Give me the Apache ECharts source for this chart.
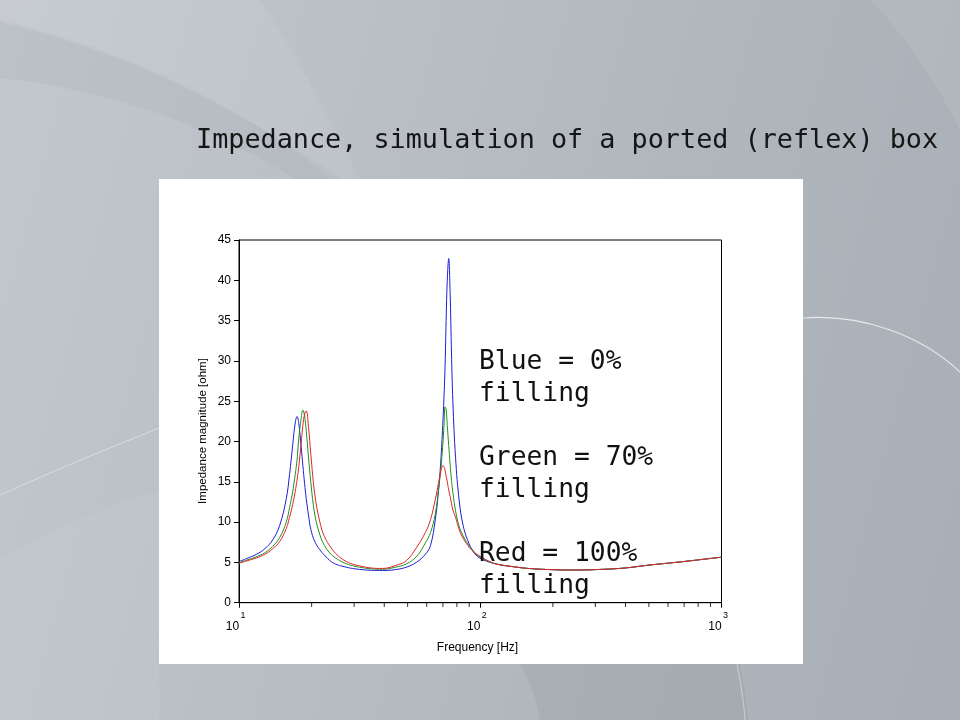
<!DOCTYPE html>
<html>
<head>
<meta charset="utf-8">
<script src="https://cdn.jsdelivr.net/npm/echarts@6/dist/echarts.min.js"></script>
<style>
html,body{margin:0;padding:0;width:960px;height:720px;overflow:hidden;}
body{position:relative;background:linear-gradient(105deg,#c3c8cd 0%,#b9bfc5 35%,#afb6bc 65%,#a7aeb5 100%);}
#bg{position:absolute;left:0;top:0;}
#panel{position:absolute;left:159px;top:179px;width:644px;height:485px;background:#ffffff;}
#chart{position:absolute;left:0;top:0;width:960px;height:720px;}
</style>
</head>
<body>
<svg id="bg" width="960" height="720">
  <path d="M0,0 L260,0 C300,60 330,120 360,180 L330,180 C250,110 130,50 0,20 Z" fill="#ffffff" opacity="0.07"/>
  <path d="M0,22 C130,52 250,115 345,182 L300,182 C210,125 110,90 0,78 Z" fill="#8a929a" opacity="0.10"/>
  <path d="M870,0 L960,0 L960,130 C935,80 905,35 870,0 Z" fill="#ffffff" opacity="0.08"/>
  <path d="M0,560 C50,530 110,505 159,490 L159,720 L0,720 Z" fill="#ffffff" opacity="0.05"/>
  <path d="M520,664 L740,664 C745,690 747,705 748,720 L540,720 C536,700 530,680 520,664 Z" fill="#000000" opacity="0.04"/>
  <path d="M803,318 C860,314 920,334 960,372" stroke="#f1f3f5" stroke-width="1.2" fill="none" opacity="0.85"/>
  <path d="M0,495 C60,468 110,448 159,428" stroke="#e9ecef" stroke-width="1" fill="none" opacity="0.6"/>
  <path d="M737,664 C742,690 744,705 745,720" stroke="#e2e6ea" stroke-width="1" fill="none" opacity="0.6"/>
</svg>
<div id="panel"></div>
<div id="chart"></div>
<script>
// Frequencies [Hz]
const freq = [10, 10.8, 11.8, 12.8, 13.8, 14.75, 15.7, 16.2, 16.7, 17.1, 17.4, 17.7, 18.1, 18.4, 18.7, 19.0, 19.4, 19.85, 20.6, 21.6, 22.6, 24.1, 25.6, 27.5, 29.5, 32.4, 35.4, 39.4, 44.4, 49.3, 54.3, 59.2, 62.2, 65.1, 67.1, 68.6, 69.9, 70.7, 71.5, 72.2, 73.0, 74.0, 75.0, 76.0, 77.0, 79.0, 81.9, 84.9, 88.8, 93.8, 98.8, 108.7, 118.6, 138.4, 158.3, 198, 247.5, 297, 396, 495, 693, 1000];
// Impedance magnitude [ohm], 0% filling (blue)
const blue = [5.1, 5.5, 6.0, 6.7, 7.8, 9.6, 12.9, 15.9, 19.6, 22.3, 23.1, 22.2, 19.3, 17.0, 14.8, 12.9, 10.9, 9.1, 7.6, 6.6, 5.9, 5.1, 4.7, 4.45, 4.25, 4.1, 4.02, 4.0, 4.1, 4.4, 5.0, 6.0, 7.1, 10.3, 13.8, 17.5, 22.0, 25.3, 29.5, 35.0, 40.0, 42.7, 38.5, 31.0, 25.0, 18.0, 12.5, 9.6, 7.7, 6.3, 5.6, 5.05, 4.75, 4.45, 4.25, 4.1, 4.05, 4.1, 4.3, 4.65, 5.1, 5.65];
// 70% filling (green)
const green = [4.95, 5.3, 5.7, 6.2, 7.0, 8.1, 10.0, 11.8, 13.8, 15.9, 17.7, 20.4, 22.9, 23.9, 23.2, 21.3, 18.2, 14.9, 11.0, 8.5, 7.1, 6.0, 5.4, 4.9, 4.6, 4.35, 4.2, 4.15, 4.4, 4.8, 5.7, 7.4, 8.7, 11.0, 14.0, 16.5, 19.5, 21.8, 24.3, 24.0, 22.0, 19.5, 17.2, 15.2, 13.7, 11.4, 9.4, 8.3, 7.3, 6.4, 5.75, 5.1, 4.75, 4.45, 4.25, 4.1, 4.05, 4.1, 4.3, 4.65, 5.1, 5.65];
// 100% filling (red)
const red = [4.9, 5.2, 5.55, 6.0, 6.7, 7.6, 9.2, 10.6, 12.2, 13.8, 15.2, 16.9, 19.8, 22.0, 23.4, 23.8, 21.9, 18.4, 13.5, 10.1, 8.2, 6.8, 5.9, 5.2, 4.8, 4.5, 4.3, 4.25, 4.6, 5.2, 6.8, 8.7, 10.3, 12.8, 14.8, 16.3, 17.0, 16.9, 16.4, 15.7, 15.0, 14.0, 13.2, 12.3, 11.5, 10.6, 9.0, 8.0, 7.1, 6.3, 5.85, 5.15, 4.75, 4.45, 4.25, 4.1, 4.05, 4.1, 4.3, 4.65, 5.1, 5.65];
// Minor tick positions on the log axis
const minorTicks = [20, 30, 40, 50, 60, 70, 80, 90, 200, 300, 400, 500, 600, 700, 800, 900];

const titleText = 'Impedance, simulation of a ported (reflex) box';
const noteText = 'Blue = 0%\nfilling\n\nGreen = 70%\nfilling\n\nRed = 100%\nfilling';
const xName = 'Frequency [Hz]';
const yName = 'Impedance magnitude [ohm]';

const chart = echarts.init(document.getElementById('chart'), null, {width: 960, height: 720});
const pair = arr => freq.map((f, i) => [f, arr[i]]);
const lineSeries = (arr, color) => ({
  type: 'line', data: pair(arr), showSymbol: false, symbol: 'none',
  smooth: 0.4,
  lineStyle: {color: color, width: 1}, silent: true
});
const sans = 'Liberation Sans, Arial, sans-serif';
const mono = 'DejaVu Sans Mono, monospace';

chart.setOption({
  animation: false,
  grid: {left: 239, right: 238.5, top: 240, bottom: 117.3, show: true, borderColor: '#000', borderWidth: 1, backgroundColor: 'transparent'},
  xAxis: {
    type: 'log', logBase: 10, min: 10, max: 1000,
    axisLine: {lineStyle: {color: '#000', width: 1}},
    axisTick: {show: true, length: 5, lineStyle: {color: '#000'}},
    splitLine: {show: false},
    axisLabel: {
      margin: 8, color: '#000',
      formatter: function (v) {
        const e = Math.round(Math.log10(v));
        return '{e|' + e + '}\n{b|10}';
      },
      rich: {
        e: {fontSize: 9, fontFamily: sans, color: '#000', lineHeight: 10, padding: [0, 0, 0, 8]},
        b: {fontSize: 12, fontFamily: sans, color: '#000', lineHeight: 12, padding: [0, 13, 0, 0]}
      }
    }
  },
  yAxis: {
    type: 'value', min: 0, max: 45, interval: 5,
    axisLine: {show: true, lineStyle: {color: '#000', width: 1}},
    axisTick: {show: true, length: 5, lineStyle: {color: '#000'}},
    splitLine: {show: false},
    axisLabel: {margin: 8, color: '#000', fontSize: 12, fontFamily: sans}
  },
  series: [
    lineSeries(blue, '#1c1cd6'),
    lineSeries(green, '#1f8f1f'),
    lineSeries(red, '#e02424'),
    {
      type: 'scatter', data: minorTicks.map(f => [f, 0]), symbol: 'rect',
      symbolSize: [1, 4], symbolOffset: [0, 2.3], clip: false, silent: true,
      itemStyle: {color: '#000'}
    }
  ],
  graphic: [
    {type: 'text', left: 196, top: 128, z: 100, style: {text: titleText, font: '26.8px ' + mono, fill: '#151515'}},
    {type: 'text', left: 479, top: 346, z: 100, style: {text: noteText, font: '26.3px ' + mono, fill: '#111', lineHeight: 32}},
    {type: 'text', x: 203, y: 431, rotation: Math.PI / 2, z: 100, style: {text: yName, font: '11.5px ' + sans, fill: '#000', align: 'center', verticalAlign: 'middle'}},
    {type: 'text', x: 477.5, y: 648, z: 100, style: {text: xName, font: '12px ' + sans, fill: '#000', align: 'center', verticalAlign: 'middle'}}
  ]
});
</script>
</body>
</html>
